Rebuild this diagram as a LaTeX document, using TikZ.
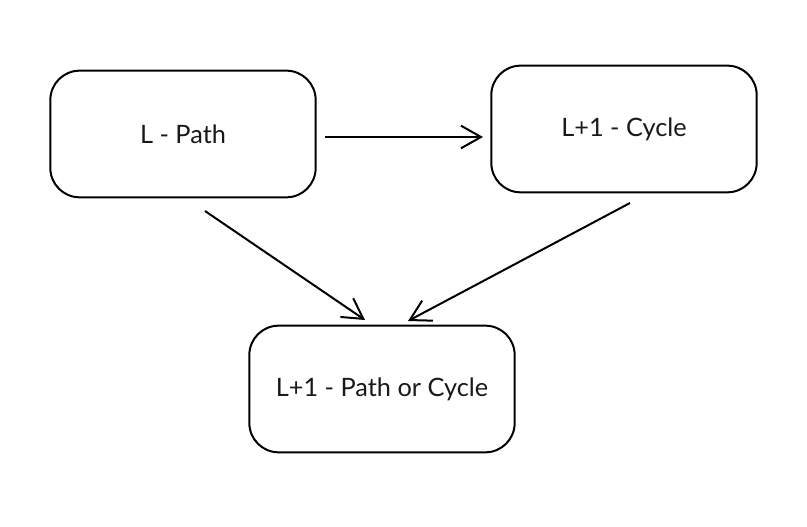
\documentclass[tikz,border=0pt]{standalone}
\usepackage{fontspec}
\setmainfont{Lato}
\usetikzlibrary{arrows.meta}
\begin{document}
\begin{tikzpicture}[x=0.75pt,y=-0.75pt,
  box/.style={draw, line width=1.5pt, rounded corners=22pt, minimum width=199pt, minimum height=95pt, inner sep=0pt, font=\fontsize{19}{23}\selectfont, text=black!90},
  conn/.style={line width=1.5pt, -{Straight Barb[length=15pt,width=17pt,line width=1.5pt]}}]
\useasboundingbox (0,0) rectangle (807,527);
\node[box] (lp) at (183,134) {L - Path};
\node[box] (lc) at (624,129) {L+1 - Cycle};
\node[box] (pc) at (382,389) {L+1 - Path or Cycle};
\coordinate (a1) at (325,137);
\coordinate (a2) at (483,137);
\coordinate (b1) at (205,211);
\coordinate (b2) at (365,320);
\coordinate (c1) at (630,203);
\coordinate (c2) at (408,321);
\draw[conn] (a1) -- (a2);
\draw[conn] (b1) -- (b2);
\draw[conn] (c1) -- (c2);
\end{tikzpicture}
\end{document}
